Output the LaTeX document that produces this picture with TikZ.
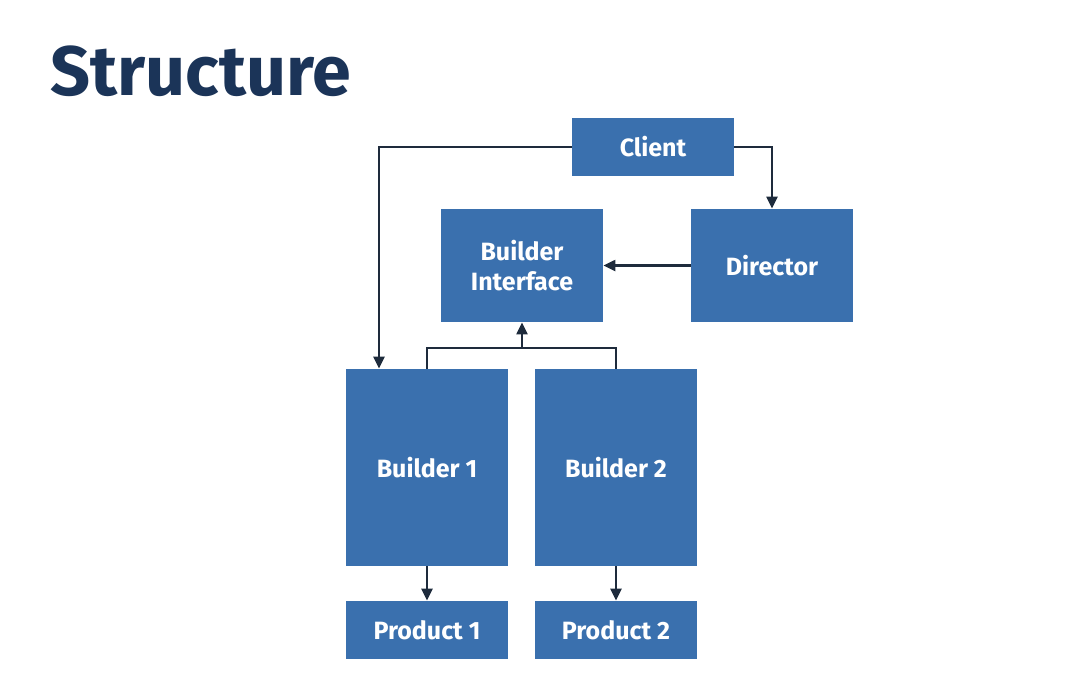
\documentclass[tikz,border=0pt]{standalone}
\usepackage{fontspec}
\setmainfont{Fira Sans}
\usetikzlibrary{arrows.meta}
\definecolor{boxblue}{HTML}{3A70AE}
\definecolor{navy}{HTML}{1B3458}
\definecolor{linec}{HTML}{1E2B3C}
\begin{document}
\begin{tikzpicture}[x=0.5pt,y=-0.5pt,
  blk/.style={draw=none,fill=boxblue,text=white,font=\fontsize{12.5}{15}\selectfont\bfseries,align=center,inner sep=0pt},
  conn/.style={draw=linec,line width=1.1pt,-{Triangle[length=6pt,width=5.5pt]}},
  plain/.style={draw=linec,line width=1.1pt}]
\useasboundingbox (0,0) rectangle (1083,676);
\fill[white] (0,0) rectangle (1083,676);
\node[anchor=base west,text=navy,font=\fontsize{35}{40}\selectfont\bfseries,inner sep=0pt] (title) at (50,95) {Structure};
\node[blk,minimum width=81pt,minimum height=29pt] (client) at (653,147) {Client};
\node[blk,minimum width=81pt,minimum height=56.5pt] (bi) at (522,265.5) {Builder\\Interface};
\node[blk,minimum width=81pt,minimum height=56.5pt] (dir) at (772,265.5) {Director};
\node[blk,minimum width=81pt,minimum height=98.5pt] (b1) at (427,467.5) {Builder 1};
\node[blk,minimum width=81pt,minimum height=98.5pt] (b2) at (616,467.5) {Builder 2};
\node[blk,minimum width=81pt,minimum height=29pt] (p1) at (427,630) {Product 1};
\node[blk,minimum width=81pt,minimum height=29pt] (p2) at (616,630) {Product 2};
\coordinate (j) at (522,348);
\draw[conn] (client.west) -| ([xshift=-24pt]b1.north);
\draw[conn] (client.east) -| (dir.north);
\draw[conn] (dir.west) -- (bi.east);
\draw[plain] (b1.north) |- (j) -| (b2.north);
\draw[conn] (j) -- (bi.south);
\draw[conn] (b1.south) -- (p1.north);
\draw[conn] (b2.south) -- (p2.north);
\end{tikzpicture}
\end{document}
